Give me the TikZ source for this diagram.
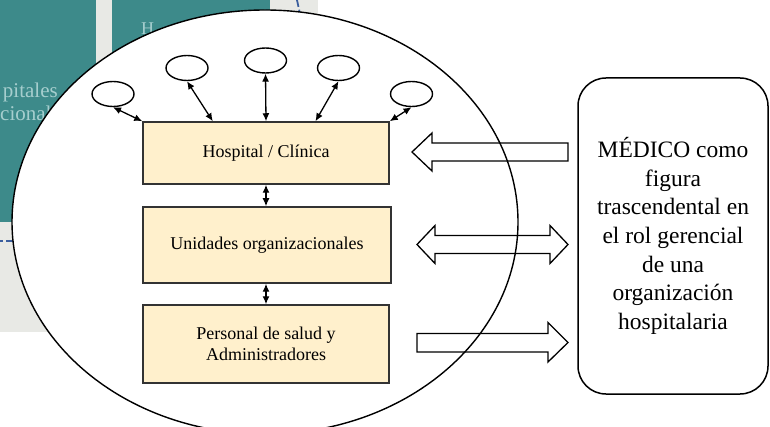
\documentclass[tikz,border=0pt]{standalone}
\usepackage{fontspec}
\setmainfont{Liberation Serif}
\usetikzlibrary{calc,arrows.meta,shapes.geometric}
\definecolor{tealbg}{HTML}{3D8A8A}
\definecolor{greybg}{HTML}{E8E9E5}
\definecolor{bgtext}{HTML}{A6CECE}
\definecolor{dashblue}{HTML}{3A5E9E}
\definecolor{boxfill}{HTML}{FFF0CC}
\definecolor{boxline}{HTML}{333333}
\begin{document}
\begin{tikzpicture}[x=1pt,y=-1pt,
  orgbox/.style={draw=boxline, line width=1.5pt, fill=boxfill, minimum width=246pt,
    inner sep=0pt, align=center, font=\fontsize{18}{21.5}\selectfont},
  satell/.style={ellipse, draw, line width=1.4pt, minimum width=42pt, minimum height=25pt, inner sep=0pt},
  link/.style={{Latex[length=8pt,width=7pt]}-{Latex[length=8pt,width=7pt]}, line width=1.3pt},
  bigarrow/.style={draw, line width=1.3pt, line join=miter},
  bgfont/.style={text=bgtext, inner sep=0pt, font=\fontsize{21}{24}\selectfont},
  bluedash/.style={draw=dashblue, line width=1.8pt, dash pattern=on 7pt off 3pt},
]
\useasboundingbox (0,0) rectangle (770,427);
% background slide remnants
\fill[greybg] (0,0) rectangle (318,332);
\fill[tealbg] (0,0) rectangle (96,222);
\fill[tealbg] (112,0) rectangle (270,222);
\node[bgfont, anchor=east] (bgt1) at (58,92) {pitales};
\node[bgfont, anchor=west] (bgt2) at (0,113) {cional};
\node[bgfont, anchor=west, font=\fontsize{18}{20}\selectfont] (bgt3) at (141,29) {H};
\draw[bluedash, dash phase=4pt] (0,241) -- (16,241);
\draw[bluedash] (297,0) -- (300,14);
% big ellipse
\node[ellipse, draw, line width=1.4pt, fill=white, minimum width=506pt, minimum height=424pt, inner sep=0pt] (big) at (265,222) {};
% boxes
\node[orgbox, minimum height=62pt] (b1) at (266,153) {Hospital / Clínica};
\node[orgbox, minimum width=248pt, minimum height=76pt] (b2) at (267,245) {Unidades organizacionales};
\node[orgbox, minimum height=78pt] (b3) at (266,344) {Personal de salud y\\Administradores};
% satellites
\node[satell] (e1) at (113,94) {};
\node[satell] (e2) at (187,68) {};
\node[satell] (e3) at (265.5,60.5) {};
\node[satell] (e4) at (338.5,68) {};
\node[satell] (e5) at (411.5,94) {};
\draw[link] (b1.north west) -- (e1.south);
\draw[link] ($(b1.north west)!0.285!(b1.north east)$) -- (e2.south);
\draw[link] (b1.north) -- (e3.south);
\draw[link] ($(b1.north west)!0.70!(b1.north east)$) -- (e4.south);
\draw[link] (b1.north east) -- (e5.south);
\draw[link] (b1.south) -- (b1.south |- b2.north);
\draw[link] (b2.south -| b1.south) -- (b1.south |- b3.north);
% medico box
\node[draw, line width=1.5pt, rounded corners=28pt, minimum width=190pt, minimum height=316pt,
  inner sep=0pt, align=center, font=\fontsize{23.5}{28.7}\selectfont] (med) at (673,236)
  {MÉDICO como\\figura\\trascendental en\\el rol gerencial\\de una\\organización\\hospitalaria};
% block arrows
\draw[bigarrow] (412,152) -- (432,133) -- (432,143) -- (568,143) -- (568,161) -- (432,161) -- (432,171) -- cycle;
\draw[bigarrow] (417,244.5) -- (435,225.5) -- (435,235.5) -- (550,235.5) -- (550,225.5) -- (568,244.5)
  -- (550,263.5) -- (550,253.5) -- (435,253.5) -- (435,263.5) -- cycle;
\draw[bigarrow] (417,333.5) -- (548,333.5) -- (548,322.5) -- (568,342.5) -- (548,362) -- (548,352) -- (417,352) -- cycle;
\end{tikzpicture}
\end{document}
